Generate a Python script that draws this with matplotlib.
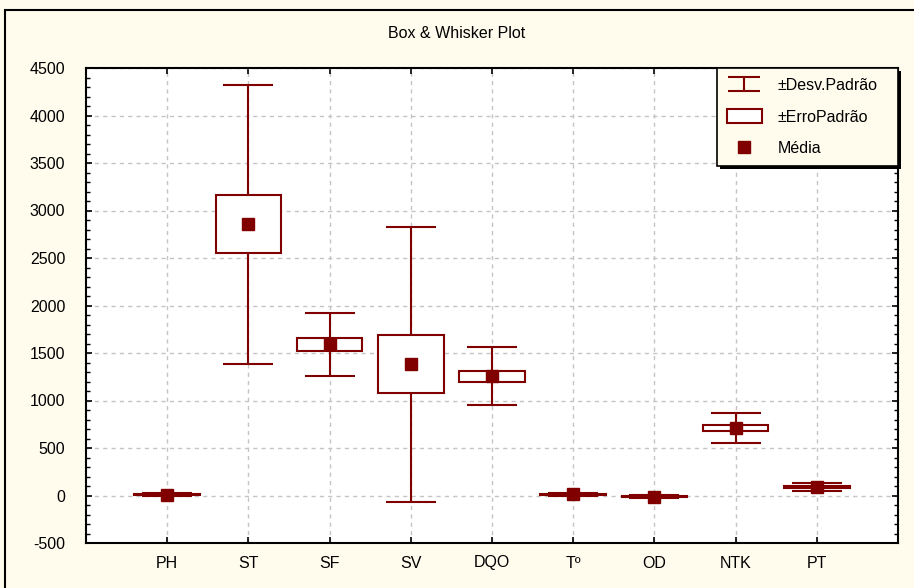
import matplotlib
matplotlib.use("Agg")
import matplotlib.pyplot as plt
from matplotlib.path import Path
from matplotlib.lines import Line2D
from matplotlib.patches import Patch, Rectangle
from matplotlib.ticker import MultipleLocator

categories = ["PH", "ST", "SF", "SV", "DQO", "Tº", "OD", "NTK", "PT"]
means = [10, 2855, 1590, 1380, 1255, 12, -12, 708, 88]
std_dev = [12, 1470, 333, 1450, 306, 12, 14, 160, 40]
std_err = [9, 305, 68, 305, 58, 9, 8, 33, 13]
legend_labels = ["±Desv.Padrão", "±ErroPadrão", "Média"]
title = "Box & Whisker Plot"

RED = "#800000"
CREAM = "#FFFCEE"

plt.rcParams["font.family"] = ["Liberation Sans", "DejaVu Sans"]
plt.rcParams["font.size"] = 11.5
plt.rcParams["axes.unicode_minus"] = False

fig = plt.figure(figsize=(9.14, 5.88), dpi=100, facecolor=CREAM)
ax = fig.add_axes([86 / 914, 45 / 588, 812 / 914, 475 / 588])
ax.set_facecolor("white")

xs = list(range(1, len(categories) + 1))
lo = [m - s for m, s in zip(means, std_err)]
h = [2 * s for s in std_err]

ax.errorbar(xs, means, yerr=std_dev, fmt="none", ecolor=RED, elinewidth=1.5,
            capsize=18, capthick=1.5, zorder=2)
ax.bar(xs, h, bottom=lo, width=0.81, facecolor="white", edgecolor=RED,
       linewidth=1.5, zorder=3)
ax.plot(xs, means, linestyle="none", marker="s", markersize=8,
        color=RED, zorder=4)

ax.set_xlim(0, 10)
ax.set_ylim(-500, 4500)
ax.set_xticks(xs)
ax.set_xticklabels(categories)
ax.yaxis.set_major_locator(MultipleLocator(500))
ax.yaxis.set_minor_locator(MultipleLocator(100))
ax.tick_params(axis="y", which="major", direction="in", length=4, width=1.2,
               left=True, right=True, labelsize=11.5, pad=15)
ax.tick_params(axis="y", which="minor", direction="in", length=3, width=1,
               left=True, right=True)
ax.tick_params(axis="x", which="major", direction="in", length=4, width=1.2,
               top=True, bottom=True, labelsize=11.5, pad=9)
ax.grid(True, which="major", color="#C4C4C4", linestyle=(0, (3, 3)),
        linewidth=1, zorder=0)
ax.set_axisbelow(True)
for sp in ax.spines.values():
    sp.set_linewidth(1.5)
    sp.set_color("black")

fig.text(0.5, 1 - 33 / 588, title, ha="center", va="center", fontsize=11.5)

# outer frame
fig.patches.append(Rectangle((4.5 / 914, -0.1), 1.2, 1.1 - 10.5 / 588,
                             transform=fig.transFigure, fill=False,
                             edgecolor="black", linewidth=1.5, clip_on=False))

ibeam = Path([(-1, 0.45), (1, 0.45), (0, 0.45), (0, -0.45), (-1, -0.45), (1, -0.45)],
             [Path.MOVETO, Path.LINETO, Path.MOVETO, Path.LINETO, Path.MOVETO, Path.LINETO])
h1 = Line2D([], [], linestyle="none", marker=ibeam, markersize=23,
            markeredgecolor=RED, markerfacecolor="none", markeredgewidth=1.5)
h2 = Patch(facecolor="white", edgecolor=RED, linewidth=1.5)
h3 = Line2D([], [], linestyle="none", marker="s", markersize=8, color=RED)

x0 = (717 - 86) / 812
leg = ax.legend([h1, h2, h3], legend_labels, loc="upper right",
                bbox_to_anchor=(x0, 0.0, 1.0 - x0, 1.0), mode="expand",
                frameon=True, fancybox=False,
                facecolor=CREAM, edgecolor="black", framealpha=1,
                handlelength=2.2, handleheight=1.0, labelspacing=1.0,
                borderpad=0.6, handletextpad=1.0, borderaxespad=0,
                shadow={"color": "black", "alpha": 1, "linewidth": 0}, fontsize=11.5)
leg.get_frame().set_linewidth(1.2)
leg.set_zorder(10)

fig.savefig("out.png", dpi=100, facecolor=CREAM)
